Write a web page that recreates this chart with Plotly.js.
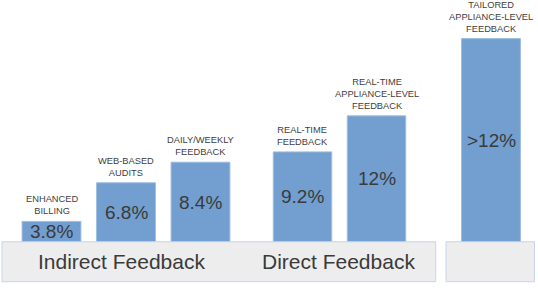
<!DOCTYPE html>
<html>
<head>
<meta charset="utf-8">
<script src="https://cdn.plot.ly/plotly-3.0.1.min.js"></script>
<style>html,body{margin:0;padding:0;background:#fff;}#chart{width:538px;height:291px;}</style>
</head>
<body>
<div id="chart"></div>
<script>
// ---- data ----
const categories = [
  "ENHANCED<br>BILLING",
  "WEB-BASED<br>AUDITS",
  "DAILY/WEEKLY<br>FEEDBACK",
  "REAL-TIME<br>FEEDBACK",
  "REAL-TIME<br>APPLIANCE-LEVEL<br>FEEDBACK",
  "TAILORED<br>APPLIANCE-LEVEL<br>FEEDBACK"
];
const savings = [3.8, 6.8, 8.4, 9.2, 12, 18];   // last bar (">12%") drawn taller, as in the picture
const valueLabels = ["3.8%", "6.8%", "8.4%", "9.2%", "12%", ">12%"];
const groupOf = [0, 0, 0, 1, 1, 2];
const groupLabels = ["Indirect Feedback", "Direct Feedback", ""];

// ---- layout helpers ----
const W = 538, H = 291, plotH = 242;
const yRange = [2.2, 21.0];
const axisIds = ["x", "x2", "x3"];
const axisKeys = ["xaxis", "xaxis2", "xaxis3"];
const domains = [[14.25 / W, 237.75 / W], [265.5 / W, 413.5 / W], [453.75 / W, 528.25 / W]];
const barColor = "#729fcf";
const textColor = "#3a3a3a";
const font = "Liberation Sans, Arial, sans-serif";

const traces = [];
const annotations = [];
const layout = {
  width: W, height: H,
  margin: {l: 0, r: 0, t: 0, b: H - plotH},
  paper_bgcolor: "#ffffff", plot_bgcolor: "rgba(0,0,0,0)",
  showlegend: false,
  bargap: 0.21,
  font: {family: font, color: textColor},
  yaxis: {range: yRange, visible: false, fixedrange: true},
  shapes: [],
  annotations: annotations
};

for (let g = 0; g < 3; g++) {
  const idx = categories.map((c, i) => i).filter(i => groupOf[i] === g);
  const cats = idx.map(i => categories[i]);
  traces.push({
    type: "bar",
    x: cats,
    y: idx.map(i => savings[i]),
    xaxis: axisIds[g], yaxis: "y",
    marker: {color: barColor, line: {color: "#9dbde0", width: 1}},
    hoverinfo: "skip"
  });
  layout[axisKeys[g]] = {
    domain: domains[g], type: "category", categoryorder: "array", categoryarray: cats,
    range: [-0.5, cats.length - 0.5],
    showticklabels: false, showgrid: false, zeroline: false, showline: false, ticks: "",
    fixedrange: true, anchor: "y"
  };
  idx.forEach(i => {
    annotations.push({
      xref: axisIds[g], yref: "y", x: categories[i], y: savings[i],
      text: categories[i], showarrow: false, xanchor: "center", yanchor: "bottom", yshift: 3,
      font: {size: 9.3, color: "#404040", family: font}, align: "center"
    });
    annotations.push({
      xref: axisIds[g], yref: "y", x: categories[i], y: (yRange[0] + savings[i]) / 2,
      text: valueLabels[i], showarrow: false, xanchor: "center", yanchor: "middle",
      font: {size: 19, color: textColor, family: font}
    });
  });
}

// bottom group boxes
const boxes = [[2 / W, 435.7 / W], [446 / W, 534.5 / W]];
const boxY0 = -(281.7 - plotH) / plotH, boxY1 = 0.001;
boxes.forEach(b => {
  layout.shapes.push({
    type: "rect", xref: "paper", yref: "paper", x0: b[0], x1: b[1], y0: boxY0, y1: boxY1,
    fillcolor: "#ededed", line: {color: "#c6d6ea", width: 1}, layer: "above"
  });
});
annotations.push({
  xref: "paper", yref: "paper", x: 121 / W, y: (boxY0 + boxY1) / 2, xanchor: "center", yanchor: "middle",
  text: groupLabels[0], showarrow: false, font: {size: 21, color: textColor, family: font}
});
annotations.push({
  xref: "paper", yref: "paper", x: 338.8 / W, y: (boxY0 + boxY1) / 2, xanchor: "center", yanchor: "middle",
  text: groupLabels[1], showarrow: false, font: {size: 21, color: textColor, family: font}
});

Plotly.newPlot("chart", traces, layout, {displayModeBar: false, staticPlot: true});
</script>
</body>
</html>
